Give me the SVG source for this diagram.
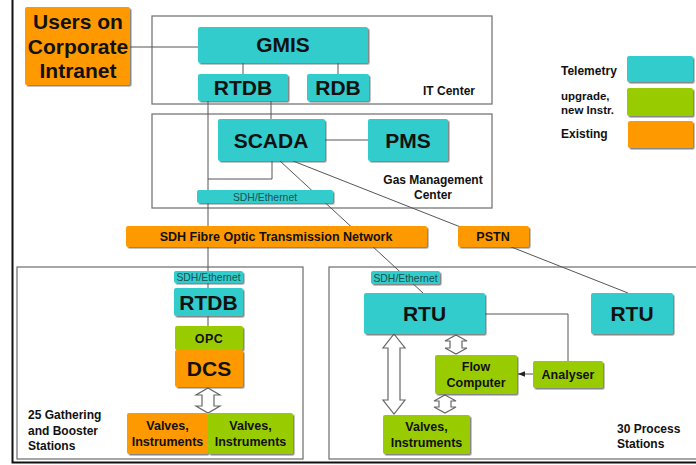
<svg xmlns="http://www.w3.org/2000/svg" width="696" height="465" viewBox="0 0 696 465">
<defs>
<filter id="sh" x="-10%" y="-10%" width="130%" height="140%">
<feDropShadow dx="1.5" dy="1.5" stdDeviation="0.6" flood-color="#555" flood-opacity="0.7"/>
</filter>
<marker id="ah" viewBox="0 0 10 10" refX="10" refY="5" markerWidth="7" markerHeight="7" orient="auto">
<path d="M0,1 L10,5 L0,9 Z" fill="#222"/>
</marker>
</defs>
<style>
.t{fill:#33CCCC;filter:url(#sh)}
.g{fill:#99CC00;filter:url(#sh)}
.o{fill:#FF9900;filter:url(#sh)}
.frame{fill:none;stroke:#777;stroke-width:1.3}
.ln{fill:none;stroke:#555;stroke-width:1}
.ha{fill:#fff;stroke:#666;stroke-width:1.2}
text{font-family:"Liberation Sans",Arial,sans-serif;font-weight:bold;fill:#111;text-anchor:middle}
.big{font-size:21px}
.mid{font-size:12.5px}
.lab{font-size:12px;text-anchor:start}
.sdh{font-size:10.4px;font-weight:normal;fill:#1d4f4f}
</style>
<rect width="696" height="465" fill="#fff"/>
<!-- outer frame -->
<path d="M12.5,0 V462.5 H696" fill="none" stroke="#111" stroke-width="2"/>
<!-- region frames -->
<g id="it-center"><rect class="frame" x="152" y="16" width="340" height="88"/><text class="lab" x="423" y="95">IT Center</text></g>
<g id="gas-management-center"><rect class="frame" x="152" y="114" width="340" height="94"/><text class="lab" x="433" y="184" style="text-anchor:middle">Gas Management</text><text class="lab" x="433" y="199" style="text-anchor:middle">Center</text></g>
<g id="gathering-stations"><rect class="frame" x="17" y="267" width="286" height="192"/><text class="lab" x="28" y="419">25 Gathering</text><text class="lab" x="28" y="435">and Booster</text><text class="lab" x="28" y="450">Stations</text></g>
<g id="process-stations"><rect class="frame" x="329" y="267" width="380" height="192"/><text class="lab" x="617" y="433">30 Process</text><text class="lab" x="617" y="448">Stations</text></g>
<!-- connectors -->
<g id="connectors">
<line class="ln" x1="130" y1="47" x2="198" y2="47"/>
<line class="ln" x1="243" y1="63" x2="243" y2="74"/>
<line class="ln" x1="338" y1="63" x2="338" y2="74"/>
<line class="ln" x1="208" y1="101" x2="208" y2="326"/>
<line class="ln" x1="271" y1="101" x2="271" y2="119"/>
<polyline class="ln" points="272,161 272,179 208,179"/>
<line class="ln" x1="325" y1="140" x2="368" y2="140"/>
<line class="ln" x1="280" y1="161" x2="423" y2="293"/>
<line class="ln" x1="293" y1="161" x2="628" y2="293"/>
<polyline class="ln" points="485,314 568,314 568,361"/>
<line class="ln" x1="533" y1="374" x2="518" y2="374" marker-end="url(#ah)"/>
<path class="ha" d="M208,388 L220,395 L214,395 L214,406 L220,406 L208,413 L196,406 L202,406 L202,395 L196,395 Z"/>
<path class="ha" d="M394,334 L405,348 L400,348 L400,400 L405,400 L394,414 L383,400 L388,400 L388,348 L383,348 Z"/>
<path class="ha" d="M456,335 L467,341 L462,341 L462,348 L467,348 L456,354 L445,348 L450,348 L450,341 L445,341 Z"/>
<path class="ha" d="M445,395 L456,401 L451,401 L451,407 L456,407 L445,413 L434,407 L439,407 L439,401 L434,401 Z"/>
</g>
<!-- nodes -->
<g id="users"><rect class="o" x="25" y="7" width="105" height="78" rx="2"/><text class="big" x="78" y="29">Users on</text><text class="big" x="78" y="54">Corporate</text><text class="big" x="78" y="78">Intranet</text></g>
<g id="gmis"><rect class="t" x="198" y="27" width="170" height="36" rx="2"/><text class="big" x="283" y="52">GMIS</text></g>
<g id="rtdb-it"><rect class="t" x="198" y="74" width="90" height="27" rx="2"/><text class="big" x="243" y="95">RTDB</text></g>
<g id="rdb"><rect class="t" x="307" y="74" width="62" height="27" rx="2"/><text class="big" x="338" y="95">RDB</text></g>
<g id="scada"><rect class="t" x="218" y="119" width="107" height="42" rx="2"/><text class="big" x="271" y="148">SCADA</text></g>
<g id="pms"><rect class="t" x="368" y="119" width="80" height="42" rx="2"/><text class="big" x="408" y="148">PMS</text></g>
<g id="sdh-eth-gmc"><rect class="t" x="197" y="190" width="136" height="13" rx="2"/><text class="sdh" x="265" y="200.5">SDH/Ethernet</text></g>
<g id="sdh-network"><rect class="o" x="126" y="226" width="301" height="21" rx="2"/><text class="mid" x="276" y="241">SDH Fibre Optic Transmission Network</text></g>
<g id="pstn"><rect class="o" x="458" y="226" width="71" height="21" rx="2"/><text class="mid" x="493" y="241">PSTN</text></g>
<g id="sdh-eth-gather"><rect class="t" x="174" y="271" width="69" height="12" rx="2"/><text class="sdh" x="208.5" y="281">SDH/Ethernet</text></g>
<g id="rtdb-gather"><rect class="t" x="174" y="288" width="69" height="28" rx="2"/><text class="big" x="208.5" y="310">RTDB</text></g>
<g id="opc"><rect class="g" x="175" y="326" width="68" height="24" rx="2"/><text class="mid" x="209" y="343" style="letter-spacing:0.5px">OPC</text></g>
<g id="dcs"><rect class="o" x="175" y="350" width="68" height="37" rx="2"/><text class="big" x="209" y="376">DCS</text></g>
<g id="valves-existing"><rect class="o" x="127" y="413" width="81" height="41" rx="2"/><text class="mid" x="167.5" y="430">Valves,</text><text class="mid" x="167.5" y="446">Instruments</text></g>
<g id="valves-upgrade-gather"><rect class="g" x="208" y="413" width="85" height="41" rx="2"/><text class="mid" x="250.5" y="430">Valves,</text><text class="mid" x="250.5" y="446">Instruments</text></g>
<g id="sdh-eth-process"><rect class="t" x="371" y="271" width="69" height="13" rx="2"/><text class="sdh" x="405.5" y="281.5">SDH/Ethernet</text></g>
<g id="rtu-process"><rect class="t" x="364" y="293" width="121" height="41" rx="2"/><text class="big" x="424.5" y="321">RTU</text></g>
<g id="rtu-pstn"><rect class="t" x="591" y="293" width="82" height="41" rx="2"/><text class="big" x="632" y="321">RTU</text></g>
<g id="flow-computer"><rect class="g" x="435" y="355" width="82" height="39" rx="2"/><text class="mid" x="476" y="371">Flow</text><text class="mid" x="476" y="387">Computer</text></g>
<g id="analyser"><rect class="g" x="533" y="361" width="70" height="27" rx="2"/><text class="mid" x="568" y="379">Analyser</text></g>
<g id="valves-process"><rect class="g" x="383" y="415" width="87" height="39" rx="2"/><text class="mid" x="426.5" y="431">Valves,</text><text class="mid" x="426.5" y="447">Instruments</text></g>
<!-- legend -->
<g id="legend">
<text class="lab" x="561" y="75">Telemetry</text><rect class="t" x="627" y="56" width="66" height="26" rx="2"/>
<text class="lab" x="561" y="100" style="font-size:11.5px">upgrade,</text><text class="lab" x="561" y="114" style="font-size:11.5px">new Instr.</text><rect class="g" x="627" y="88" width="66" height="28" rx="2"/>
<text class="lab" x="561" y="138">Existing</text><rect class="o" x="628" y="121" width="65" height="27" rx="2"/>
</g>
</svg>
